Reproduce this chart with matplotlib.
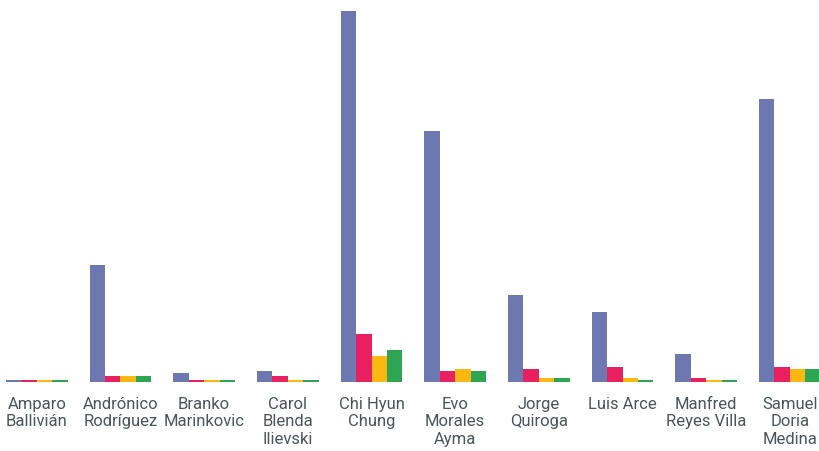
import matplotlib.pyplot as plt
import numpy as np

candidates = ["Amparo\nBallivián", "Andrónico\nRodríguez", "Branko\nMarinkovic",
              "Carol\nBlenda\nIlievski", "Chi Hyun\nChung", "Evo\nMorales\nAyma",
              "Jorge\nQuiroga", "Luis Arce", "Manfred\nReyes Villa", "Samuel\nDoria\nMedina"]

# four series, values (arbitrary units)
serie1 = [1.5, 117, 9, 11, 371, 251, 87, 70, 28, 283]
serie2 = [1.5, 6, 1.5, 6, 48, 11, 13, 15, 4, 15]
serie3 = [1.5, 6, 1.5, 1.5, 26, 13, 4, 4, 1.5, 13]
serie4 = [1.5, 6, 1.5, 1.5, 32, 11, 4, 2, 1.5, 13]

colors = ["#6e78b0", "#e8205f", "#fbb813", "#2ea553"]

fig = plt.figure(figsize=(8.2, 4.51), dpi=100)
ax = fig.add_axes([0, (451 - 381.5) / 451, 1, 371.5 / 451])

x = np.arange(len(candidates))
w = 0.185
for i, s in enumerate([serie1, serie2, serie3, serie4]):
    ax.bar(x + (i - 1.5) * w, s, width=w, color=colors[i])

ax.set_xlim(-0.44, 9.36)
ax.set_ylim(0, 371.5)
ax.set_xticks(x)
ax.set_xticklabels(candidates, fontsize=12, family="Roboto", color="#4a545c",
                   linespacing=1.2, va="top")
ax.tick_params(axis="x", length=0, pad=11)
ax.set_yticks([])
for sp in ax.spines.values():
    sp.set_visible(False)

fig.savefig("out.png", dpi=100)
